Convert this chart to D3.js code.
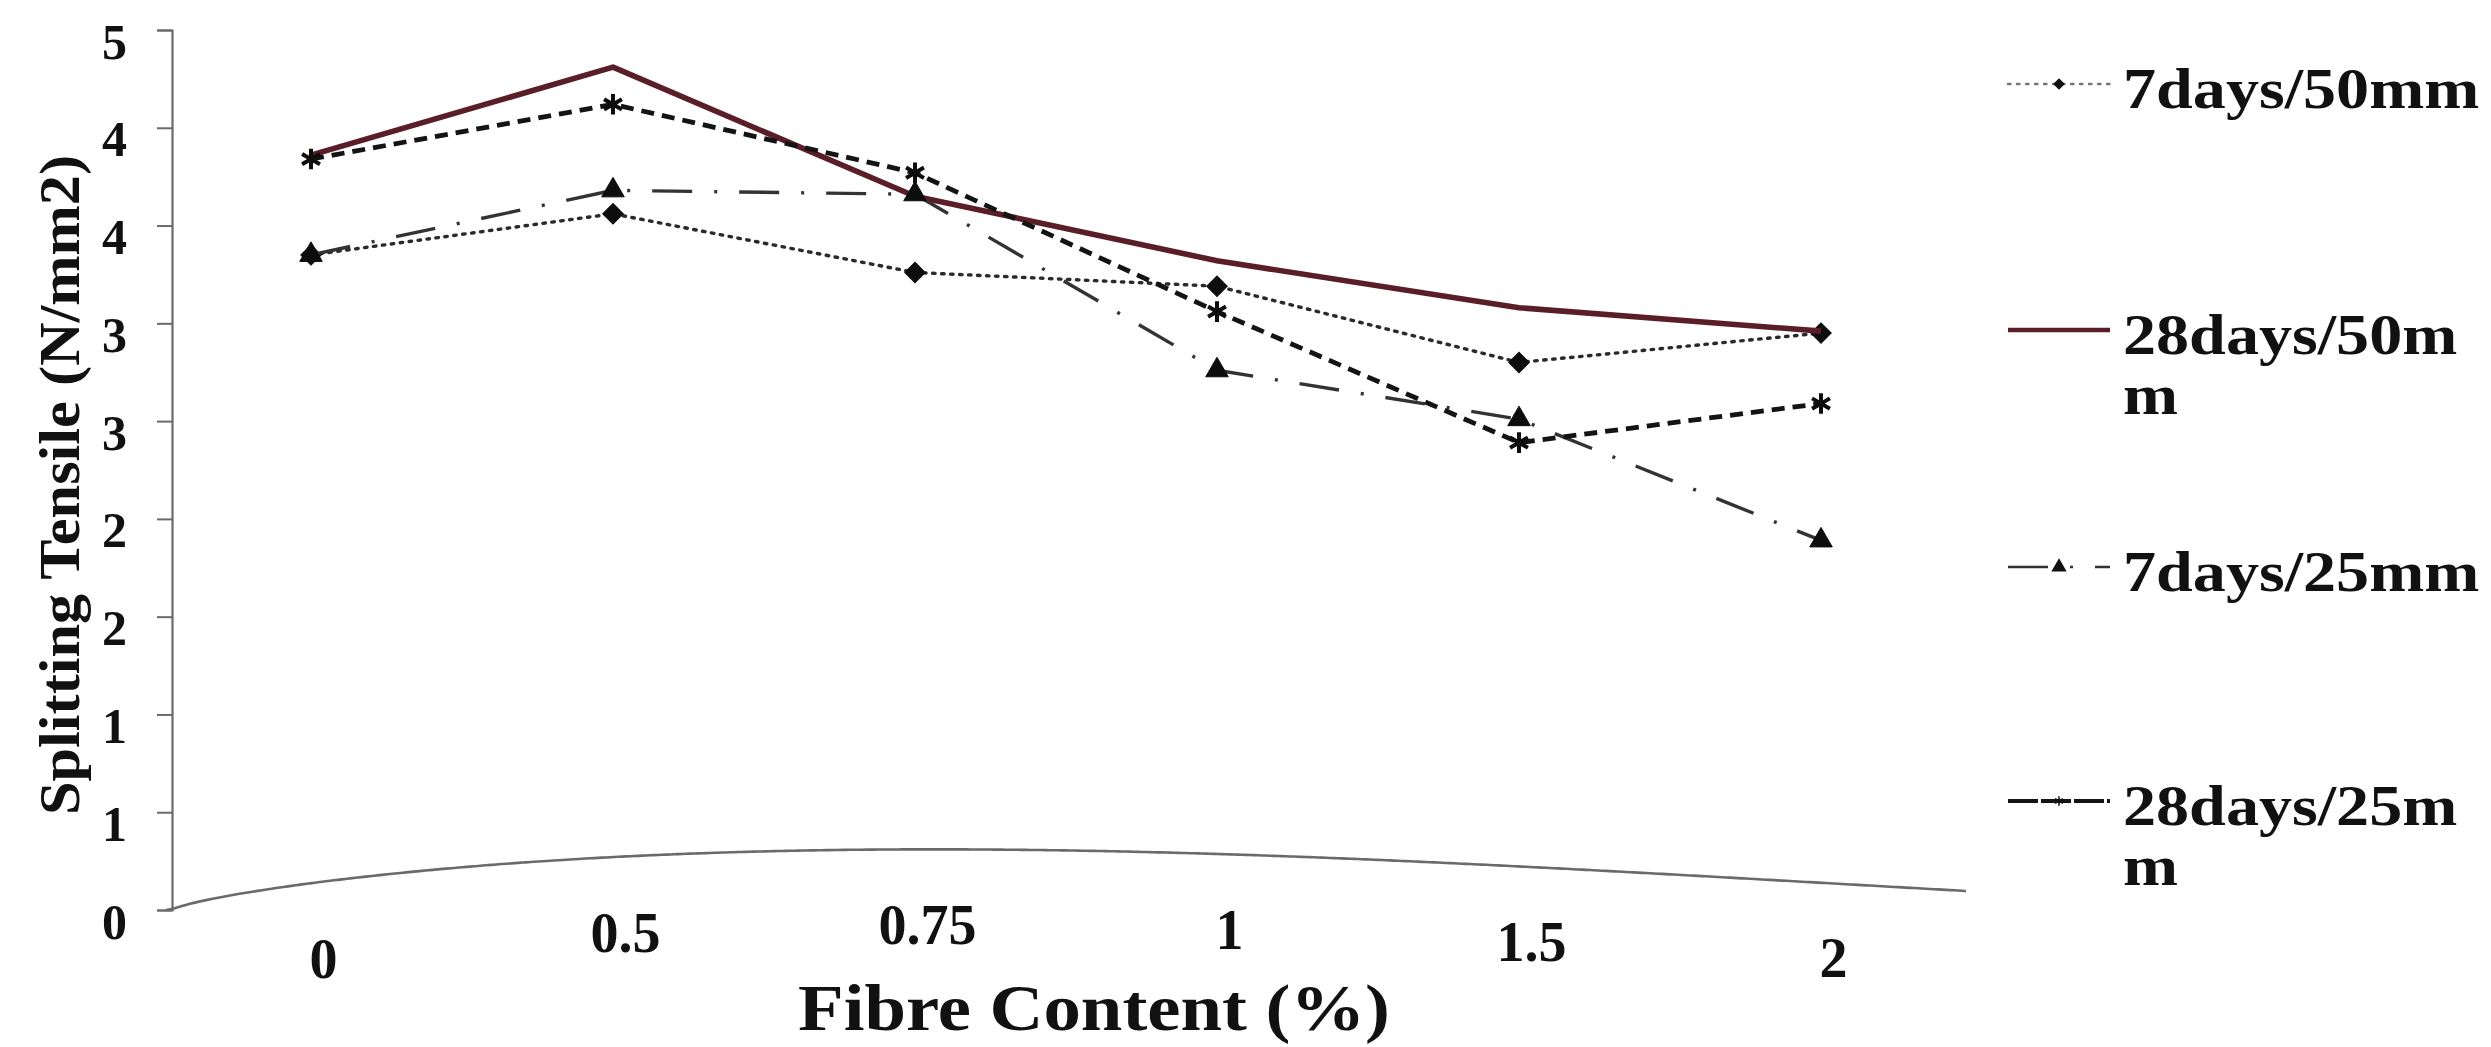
<!DOCTYPE html>
<html>
<head>
<meta charset="utf-8">
<script src="https://cdn.jsdelivr.net/npm/d3@7"></script>
<style>
  html, body { margin: 0; padding: 0; background: #ffffff; }
  svg { display: block; }
  text { font-family: "Liberation Serif", "Times New Roman", serif; font-weight: bold; fill: #111; }
</style>
</head>
<body>
<svg id="chart" width="2491" height="1047"></svg>
<script>
// Splitting tensile strength vs. fibre content
const categories = ["0", "0.5", "0.75", "1", "1.5", "2"];
const seriesNames = ["7days/50mm", "28days/50mm", "7days/25mm", "28days/25mm"];
const legendLabels = [["7days/50mm"], ["28days/50m", "m"], ["7days/25mm"], ["28days/25m", "m"]];
const days7mm50  = [3.35, 3.56, 3.26, 3.19, 2.80, 2.95];
const days28mm50 = [3.86, 4.31, 3.65, 3.32, 3.08, 2.96];
const days7mm25  = [3.35, 3.68, 3.66, 2.76, 2.51, 1.89];
const days28mm25 = [3.84, 4.12, 3.77, 3.06, 2.39, 2.59];
const yTicks = [0, 0.5, 1, 1.5, 2, 2.5, 3, 3.5, 4, 4.5];
const yMax = 4.5;
const xTitle = "Fibre Content (%)";
const yTitle = "Splitting Tensile (N/mm2)";

const seriesValues = [days7mm50, days28mm50, days7mm25, days28mm25];

// line / marker appearance per series
const styles = [
  { color: "#2a2a2a", width: 3.4, dash: "2.5,6.5", cap: "round", marker: "diamond" },
  { color: "#5a1e29", width: 5.6, dash: null, cap: "butt", marker: null },
  { color: "#333333", width: 3.4, dash: "40,22,3,22", cap: "butt", marker: "triangle" },
  { color: "#141414", width: 4.8, dash: "13,8", cap: "butt", marker: "asterisk" }
];

const svg = d3.select("#chart");

const axisLeftX = 172, axisRightX = 1966;
const x = d3.scalePoint().domain(categories).range([160, 1972]).padding(0.5);
const y = d3.scaleLinear().domain([0, yMax]).range([910, 30]);

// the category baseline bows gently upward across the plot
const bowLift = 53, bowEnd = 19, bowExp = 0.72;
function baseLift(px) {
  const t = Math.max(0, Math.min(1, (px - axisLeftX) / (axisRightX - axisLeftX)));
  return bowLift * Math.sin(Math.PI * Math.pow(t, bowExp)) + bowEnd * t;
}

// value axis
const yAxis = d3.axisLeft(y)
  .tickValues(yTicks)
  .tickFormat(d => String(Math.round(d)))
  .tickSize(15)
  .tickPadding(30);
const gy = svg.append("g").attr("transform", `translate(${axisLeftX},0)`).call(yAxis);
gy.select(".domain").attr("stroke", "#6a6a6a").attr("stroke-width", 2.2);
gy.selectAll(".tick line").attr("stroke", "#6a6a6a").attr("stroke-width", 2);
gy.selectAll(".tick text")
  .attr("y", 12)
  .style("font-size", "50px")
  .style("font-family", "'Liberation Serif', serif")
  .style("font-weight", "bold")
  .attr("fill", "#111");

// category axis
const xAxis = d3.axisBottom(x).tickSize(0).tickPadding(0);
const gx = svg.append("g").attr("transform", `translate(0,${y(0)})`).call(xAxis);
gx.select(".domain").remove();
gx.selectAll(".tick text")
  .attr("x", 12)
  .attr("y", d => 75 - baseLift(x(d)))
  .attr("dy", "0.35em")
  .style("font-size", "56px")
  .style("font-family", "'Liberation Serif', serif")
  .style("font-weight", "bold")
  .attr("fill", "#111");

const baseSamples = d3.range(axisLeftX - 6, axisRightX + 1, 8);
svg.append("path")
  .attr("d", d3.line().x(d => d).y(d => y(0) - baseLift(d)).curve(d3.curveBasis)(baseSamples))
  .attr("fill", "none")
  .attr("stroke", "#6a6a6a")
  .attr("stroke-width", 2.6);

// series
const symbolFor = {
  diamond: d3.symbol().type(d3.symbolSquare).size(210),
  triangle: d3.symbol().type(d3.symbolTriangle).size(220),
  asterisk: d3.symbol().type(d3.symbolAsterisk).size(300)
};
const lineGen = d3.line().x((d, i) => x(categories[i])).y(d => y(d));

seriesValues.forEach((vals, s) => {
  const st = styles[s];
  const g = svg.append("g").attr("class", "series");
  g.append("path")
    .attr("d", lineGen(vals))
    .attr("fill", "none")
    .attr("stroke", st.color)
    .attr("stroke-width", st.width)
    .attr("stroke-linecap", st.cap)
    .attr("stroke-linejoin", "round")
    .attr("stroke-dasharray", st.dash);
  if (st.marker) {
    g.selectAll("path.mk").data(vals).join("path")
      .attr("class", "mk")
      .attr("d", symbolFor[st.marker]())
      .attr("transform", (d, i) => `translate(${x(categories[i])},${y(d)})` + (st.marker === "diamond" ? " rotate(45)" : ""))
      .attr("fill", st.marker === "asterisk" ? "none" : "#0d0d0d")
      .attr("stroke", "#0d0d0d")
      .attr("stroke-width", st.marker === "asterisk" ? 4 : 1);
  }
});

// axis titles
svg.append("text")
  .attr("x", 1094).attr("y", 1007)
  .attr("text-anchor", "middle").attr("dominant-baseline", "central")
  .attr("textLength", 592).attr("lengthAdjust", "spacingAndGlyphs")
  .style("font-size", "66px")
  .text(xTitle);

svg.append("text")
  .attr("transform", "translate(60,485) rotate(-90)")
  .attr("text-anchor", "middle").attr("dominant-baseline", "central")
  .attr("textLength", 660).attr("lengthAdjust", "spacingAndGlyphs")
  .style("font-size", "56px")
  .text(yTitle);

// legend
const legendY = [84, 330, 567, 801];
const legendMarker = {
  diamond: d3.symbol().type(d3.symbolSquare).size(45),
  triangle: d3.symbol().type(d3.symbolTriangle).size(70),
  asterisk: d3.symbol().type(d3.symbolAsterisk).size(60)
};
const lg = svg.append("g").attr("class", "legend");
seriesNames.forEach((name, s) => {
  const st = styles[s];
  const ly = legendY[s];
  const item = lg.append("g").attr("transform", `translate(0,${ly})`);
  item.append("line")
    .attr("x1", 2008).attr("x2", 2110).attr("y1", 0).attr("y2", 0)
    .attr("stroke", s === 0 ? "#777" : st.color)
    .attr("stroke-width", s === 0 ? 2.4 : st.width * 0.8)
    .attr("stroke-linecap", st.cap)
    .attr("stroke-dasharray", s === 3 ? "30,3" : st.dash);
  if (st.marker) {
    item.append("path")
      .attr("d", legendMarker[st.marker]())
      .attr("transform", `translate(2059,0)` + (st.marker === "diamond" ? " rotate(45)" : ""))
      .attr("fill", "#111").attr("stroke", "#111").attr("stroke-width", 1.5);
  }
  const t = item.append("text")
    .attr("transform", "translate(2123,24) scale(1.16,1)")
    .style("font-size", "57px");
  legendLabels[s].forEach((line, j) => {
    t.append("tspan").attr("x", 0).attr("y", j * 60).text(line);
  });
});
</script>
</body>
</html>
